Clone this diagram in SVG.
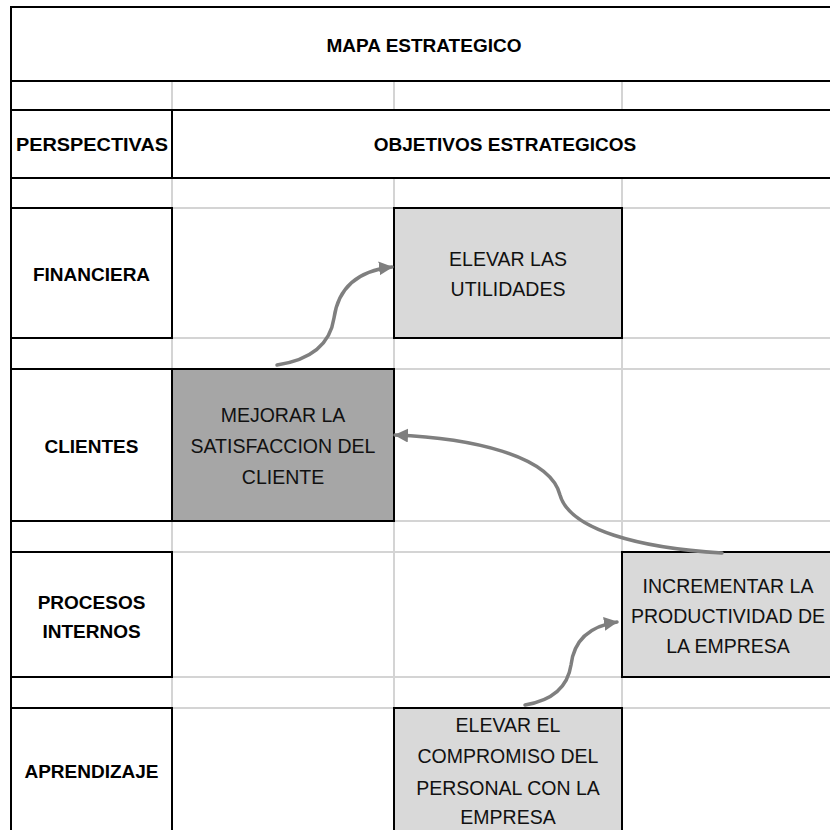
<svg xmlns="http://www.w3.org/2000/svg" width="830" height="830" viewBox="0 0 830 830">
<style>
.grid{stroke:#d4d4d4;stroke-width:2;fill:none}
.cell{fill:#ffffff;stroke:#000;stroke-width:2}
.box{fill:#d9d9d9;stroke:#000;stroke-width:2}
.dark{fill:#a6a6a6;stroke:#000;stroke-width:2}
.b{font-family:"Liberation Sans",Arial,sans-serif;font-weight:bold;font-size:19px;fill:#000;text-anchor:middle}
.t{font-family:"Liberation Sans",Arial,sans-serif;font-size:19.5px;fill:#111;text-anchor:middle}
.conn{fill:none;stroke:#7f7f7f;stroke-width:3.5;stroke-linecap:round}
</style>
<defs>
<marker id="ah" markerUnits="userSpaceOnUse" markerWidth="16" markerHeight="16" refX="13" refY="7" orient="auto">
<path d="M0,0 L14,7 L0,14 Z" fill="#7f7f7f"/>
</marker>
</defs>
<rect x="0" y="0" width="830" height="830" fill="#ffffff"/>
<g id="gridlines">
<path class="grid" d="M11,81H830M11,110H830M11,178H830M11,208H830M11,338H830M11,369H830M11,521H830M11,552H830M11,677H830M11,708H830"/>
<path class="grid" d="M172,81V110M394,81V110M622,81V110M172,178V830M394,178V830M622,178V830"/>
</g>
<g id="frame">
<line x1="11" y1="7" x2="11" y2="830" stroke="#000" stroke-width="2"/>
<line x1="11" y1="81" x2="11" y2="110" stroke="#000" stroke-width="2"/>
</g>
<g id="title">
<rect class="cell" x="11" y="7" width="840" height="74"/>
<text class="b" x="424" y="52">MAPA ESTRATEGICO</text>
</g>
<g id="blankrow1">
<line x1="11" y1="81" x2="840" y2="81" stroke="#000" stroke-width="2"/>
<line x1="11" y1="110" x2="840" y2="110" stroke="#000" stroke-width="2"/>
</g>
<g id="header-perspectivas">
<rect class="cell" x="11" y="110" width="161" height="68"/>
<text class="b" x="92" y="151" textLength="152" lengthAdjust="spacingAndGlyphs">PERSPECTIVAS</text>
</g>
<g id="header-objetivos">
<rect class="cell" x="172" y="110" width="670" height="68"/>
<text class="b" x="505" y="151">OBJETIVOS ESTRATEGICOS</text>
</g>
<g id="p-financiera">
<rect class="cell" x="11" y="208" width="161" height="130"/>
<text class="b" x="91.5" y="281">FINANCIERA</text>
</g>
<g id="p-clientes">
<rect class="cell" x="11" y="369" width="161" height="152"/>
<text class="b" x="91.5" y="453">CLIENTES</text>
</g>
<g id="p-procesos">
<rect class="cell" x="11" y="552" width="161" height="125"/>
<text class="b" x="91.5" y="609">PROCESOS</text>
<text class="b" x="91.5" y="638">INTERNOS</text>
</g>
<g id="p-aprendizaje">
<rect class="cell" x="11" y="708" width="161" height="140"/>
<text class="b" x="91.5" y="778">APRENDIZAJE</text>
</g>
<g id="n-utilidades">
<rect class="box" x="394" y="208" width="228" height="130"/>
<text class="t" x="508" y="266">ELEVAR LAS</text>
<text class="t" x="508" y="296">UTILIDADES</text>
</g>
<g id="n-satisfaccion">
<rect class="dark" x="172" y="369" width="222" height="152"/>
<text class="t" x="283" y="422">MEJORAR LA</text>
<text class="t" x="283" y="453">SATISFACCION DEL</text>
<text class="t" x="283" y="484">CLIENTE</text>
</g>
<g id="n-productividad">
<rect class="box" x="622" y="552" width="220" height="125"/>
<text class="t" x="728" y="593">INCREMENTAR LA</text>
<text class="t" x="728" y="623">PRODUCTIVIDAD DE</text>
<text class="t" x="728" y="653">LA EMPRESA</text>
</g>
<g id="n-compromiso">
<rect class="box" x="394" y="708" width="228" height="140"/>
<text class="t" x="508" y="732">ELEVAR EL</text>
<text class="t" x="508" y="763">COMPROMISO DEL</text>
<text class="t" x="508" y="795">PERSONAL CON LA</text>
<text class="t" x="508" y="824">EMPRESA</text>
</g>
<g id="connectors">
<path class="conn" marker-end="url(#ah)" d="M277,365 C310,360 330,345 334,318 C338,290 355,271 392,267"/>
<path class="conn" marker-end="url(#ah)" d="M722,553 C640,548 570,530 560,495 C550,455 470,438 395,435"/>
<path class="conn" marker-end="url(#ah)" d="M525,705 C555,700 568,685 571,665 C574,640 590,626 617,622"/>
</g>
</svg>
